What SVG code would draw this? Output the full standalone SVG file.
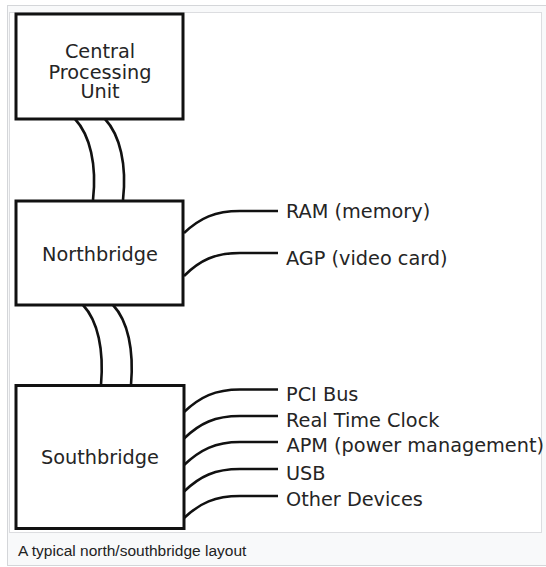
<svg xmlns="http://www.w3.org/2000/svg" width="546" height="567" viewBox="0 0 546 567">
  <style>
    .box { fill: #ffffff; stroke: #111111; stroke-width: 3; }
    .bus { fill: none; stroke: #111111; stroke-width: 2.6; stroke-linecap: butt; }
    .lbl { font-family: "DejaVu Sans", sans-serif; font-size: 19.3px; fill: #252525; }
    .mid { text-anchor: middle; }
    .cap { font-family: "Liberation Sans", Arial, sans-serif; font-size: 15.5px; fill: #222222; }
  </style>

  <!-- thumbnail frame -->
  <rect x="7.5" y="5.5" width="545" height="560" fill="#f8f9fa" stroke="#d4d6d9" stroke-width="1"/>
  <rect x="9.5" y="12.5" width="532" height="520" fill="#ffffff" stroke="#dcdde0" stroke-width="1"/>

  <!-- buses between chips and to peripherals -->
  <g id="connectors">
    <path class="bus" d="M75,119 C90,135 97,165 93,200"/>
    <path class="bus" d="M105,119 C120,135 127,165 123,200"/>
    <path class="bus" d="M83,305 C98,321 104,350 101,385"/>
    <path class="bus" d="M113,305 C128,321 134,350 131,385"/>

    <path class="bus" d="M184,233 C200,218 215,211 240,211 L278,211"/>
    <path class="bus" d="M184,276 C200,260 215,253 240,253 L278,253"/>

    <path class="bus" d="M184,412 C200,397 215,389.5 240,389.5 L278,389.5"/>
    <path class="bus" d="M184,438.5 C200,423 215,416 240,416 L278,416"/>
    <path class="bus" d="M184,465 C200,450 215,442 240,442 L278,442"/>
    <path class="bus" d="M184,491.5 C200,476 215,469 240,469 L278,469"/>
    <path class="bus" d="M184,518 C200,503 215,496 240,496 L278,496"/>
  </g>

  <g id="cpu">
    <rect class="box" x="16" y="14" width="167" height="105"/>
    <text class="lbl mid" x="100" y="58">Central<tspan x="100" y="79">Processing</tspan><tspan x="100" y="98">Unit</tspan></text>
  </g>

  <g id="northbridge">
    <rect class="box" x="16" y="201" width="167" height="104"/>
    <text class="lbl mid" x="100" y="261">Northbridge</text>
  </g>

  <g id="southbridge">
    <rect class="box" x="16" y="385.5" width="168" height="143"/>
    <text class="lbl mid" x="100" y="463.5">Southbridge</text>
  </g>

  <g id="ram"><text class="lbl" x="286" y="218">RAM (memory)</text></g>
  <g id="agp"><text class="lbl" x="286" y="265">AGP (video card)</text></g>
  <g id="pci"><text class="lbl" x="286" y="401">PCI Bus</text></g>
  <g id="rtc"><text class="lbl" x="286" y="427">Real Time Clock</text></g>
  <g id="apm"><text class="lbl" x="286.5" y="452">APM (power management)</text></g>
  <g id="usb"><text class="lbl" x="286" y="479.5">USB</text></g>
  <g id="other"><text class="lbl" x="286" y="505.5">Other Devices</text></g>

  <text class="cap" x="18" y="556">A typical north/southbridge layout</text>
</svg>
